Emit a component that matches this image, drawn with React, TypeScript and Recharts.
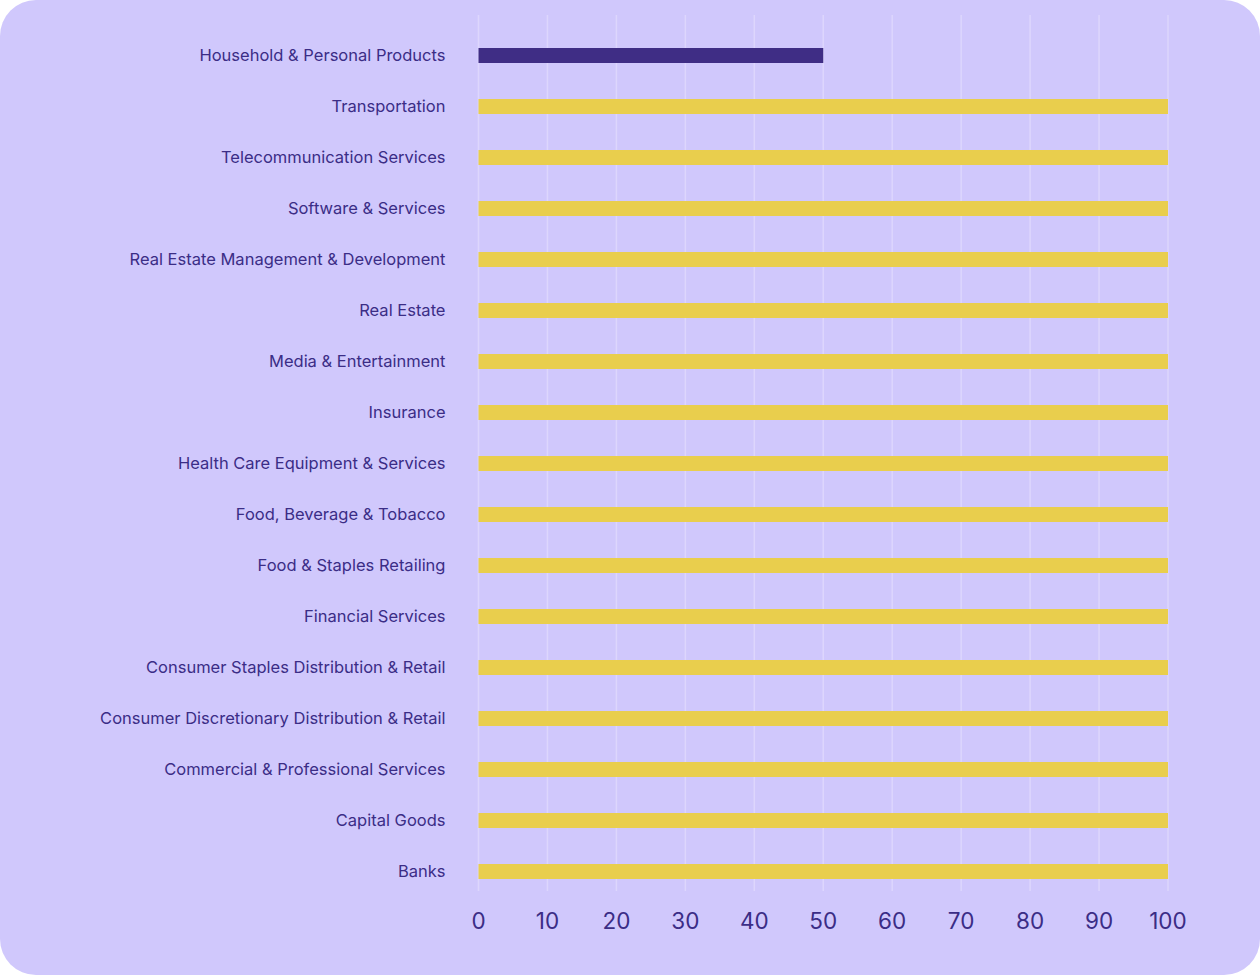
import { BarChart, Bar, XAxis, YAxis, CartesianGrid, Cell } from 'recharts';

const industries = [
  'Household & Personal Products',
  'Transportation',
  'Telecommunication Services',
  'Software & Services',
  'Real Estate Management & Development',
  'Real Estate',
  'Media & Entertainment',
  'Insurance',
  'Health Care Equipment & Services',
  'Food, Beverage & Tobacco',
  'Food & Staples Retailing',
  'Financial Services',
  'Consumer Staples Distribution & Retail',
  'Consumer Discretionary Distribution & Retail',
  'Commercial & Professional Services',
  'Capital Goods',
  'Banks',
];

const scores = [50, 100, 100, 100, 100, 100, 100, 100, 100, 100, 100, 100, 100, 100, 100, 100, 100];

const xTicks = [0, 10, 20, 30, 40, 50, 60, 70, 80, 90, 100];

const TEXT = '#3B2D86';

export default function App() {
  const data = industries.map((name, i) => ({ name, value: scores[i] }));

  return (
    <div
      style={{
        position: 'fixed',
        left: 0,
        top: 0,
        width: 1260,
        height: 975,
        borderRadius: 36,
        background: '#D0C8FC',
        fontFamily: 'Inter, sans-serif',
      }}
    >
      <BarChart
        width={1260}
        height={975}
        data={data}
        layout='vertical'
        margin={{ top: 15, right: 92, bottom: 0, left: 0 }}
        barSize={15}
      >
        <CartesianGrid horizontal={false} stroke='#DDD6FD' strokeWidth={1.5} />
        <XAxis
          type='number'
          domain={[0, 100]}
          ticks={xTicks}
          axisLine={false}
          tickLine={false}
          tickSize={0}
          tickMargin={22}
          height={84}
          tick={{ fill: TEXT, fontSize: 22.5 }}
        />
        <YAxis
          type='category'
          dataKey='name'
          width={478.5}
          axisLine={false}
          tickLine={false}
          tickSize={0}
          tickMargin={33}
          interval={0}
          padding={{ top: 15, bottom: -6 }}
          tick={{ fill: TEXT, fontSize: 16.5 }}
        />
        <Bar dataKey='value' isAnimationActive={false}>
          {data.map((d, i) => (
            <Cell key={d.name} fill={i === 0 ? '#3F2D85' : '#E9CE4D'} />
          ))}
        </Bar>
      </BarChart>
    </div>
  );
}
